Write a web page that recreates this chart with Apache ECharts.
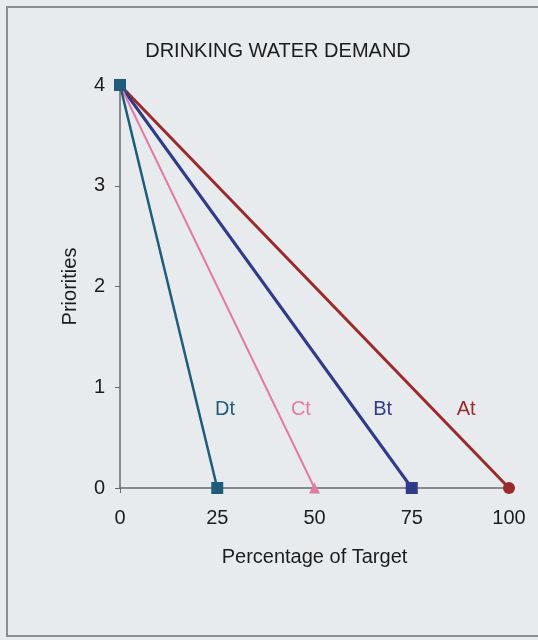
<!DOCTYPE html>
<html>
<head>
<meta charset="utf-8">
<script src="https://cdn.jsdelivr.net/npm/echarts@6/dist/echarts.min.js"></script>
<style>
  html, body { margin: 0; padding: 0; background: #e8ebee; }
  #chart { width: 538px; height: 640px; }
</style>
</head>
<body>
<div id="chart"></div>
<script>
// Priority falls from 4 to 0 as each target share is reached
const seriesNames = ['At', 'Bt', 'Ct', 'Dt'];
const startPoint = [0, 4];
const targetPercent = [100, 75, 50, 25];
const seriesColors = ['#9a2a2c', '#2f3a8a', '#e27ba3', '#1f5c7c'];
const endSymbols = ['circle', 'rect', 'triangle', 'rect'];
const lineWidths = [3, 3, 2, 2.5];
const labelAnchors = [[89, 0.78], [67.5, 0.78], [46.5, 0.78], [27, 0.78]];
const xTicks = [0, 25, 50, 75, 100];
const yTicks = [0, 1, 2, 3, 4];

const font = '"Liberation Sans", Arial, sans-serif';
const textColor = '#1c1c1c';

const series = seriesNames.map((name, i) => ({
  name: name,
  type: 'line',
  data: [
    { value: startPoint, symbol: 'rect', symbolSize: 12 },
    { value: [targetPercent[i], 0], symbol: endSymbols[i], symbolSize: endSymbols[i] === 'triangle' ? 11 : 12 }
  ],
  lineStyle: { color: seriesColors[i], width: lineWidths[i] },
  itemStyle: { color: seriesColors[i] },
  showAllSymbol: true,
  z: 2 + i,
  markPoint: {
    symbol: 'circle',
    symbolSize: 0,
    data: [{ coord: labelAnchors[i], value: name }],
    label: {
      show: true,
      formatter: name,
      color: seriesColors[i],
      fontFamily: font,
      fontSize: 20,
      position: 'inside'
    }
  }
}));

const chart = echarts.init(document.getElementById('chart'));
chart.setOption({
  backgroundColor: '#e8ebee',
  animation: false,
  title: {
    text: 'DRINKING WATER DEMAND',
    left: 273,
    top: 36,
    textAlign: 'center',
    textStyle: { fontFamily: font, fontSize: 20, fontWeight: 'normal', color: textColor }
  },
  graphic: [{
    type: 'rect',
    shape: { x: 7, y: 7, width: 545, height: 629 },
    style: { fill: 'none', stroke: '#8a8d90', lineWidth: 2 },
    silent: true
  }],
  grid: { left: 120, right: 29, top: 85, bottom: 152 },
  xAxis: {
    type: 'value',
    min: xTicks[0],
    max: xTicks[xTicks.length - 1],
    interval: xTicks[1] - xTicks[0],
    name: 'Percentage of Target',
    nameLocation: 'middle',
    nameGap: 59,
    nameTextStyle: { fontFamily: font, fontSize: 20, color: textColor },
    axisLine: { lineStyle: { color: '#6a6a6a', width: 1.5 } },
    axisTick: { show: true, length: 5, lineStyle: { color: '#6a6a6a' } },
    axisLabel: { fontFamily: font, fontSize: 20, color: textColor, margin: 20 },
    splitLine: { show: false }
  },
  yAxis: {
    type: 'value',
    min: yTicks[0],
    max: yTicks[yTicks.length - 1],
    interval: 1,
    name: 'Priorities',
    nameLocation: 'middle',
    nameGap: 40,
    nameTextStyle: { fontFamily: font, fontSize: 20, color: textColor },
    axisLine: { show: true, lineStyle: { color: '#6a6a6a', width: 1.5 } },
    axisTick: { show: true, length: 5, lineStyle: { color: '#6a6a6a' } },
    axisLabel: { fontFamily: font, fontSize: 20, color: textColor, margin: 15 },
    splitLine: { show: false }
  },
  series: series
});
</script>
</body>
</html>
